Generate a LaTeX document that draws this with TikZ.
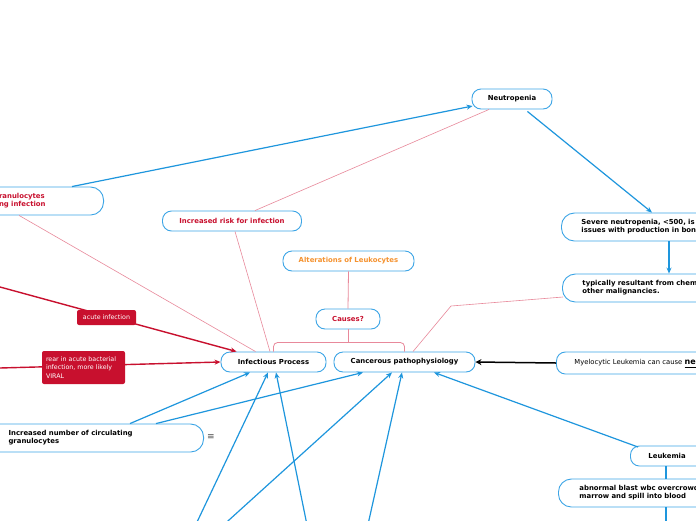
\documentclass[tikz,border=0pt]{standalone}
\usepackage{fontspec}
\setmainfont{DejaVu Sans}
\usetikzlibrary{arrows.meta,calc}
\definecolor{nblue}{HTML}{3DA5E6}
\definecolor{cblue}{HTML}{1E96DD}
\definecolor{mred}{HTML}{C8102E}
\definecolor{mpink}{HTML}{E8899B}
\definecolor{morange}{HTML}{F5922F}
\tikzset{
  topic/.style={draw=nblue, line width=0.9pt, rounded corners=9pt, fill=white,
    minimum height=20pt, inner sep=0pt, font=\fontsize{6.9}{8}\selectfont\bfseries},
  twoline/.style={topic, minimum height=28pt, rounded corners=13pt, align=left},
  redtag/.style={fill=mred, text=white, rounded corners=2pt, inner sep=0pt,
    font=\fontsize{6.3}{8.5}\selectfont},
  blueline/.style={draw=cblue, line width=1.2pt},
  bluearrow/.style={blueline, -{Stealth[length=6pt,width=5pt]}},
  redarrow/.style={draw=mred, line width=1.4pt, -{Stealth[length=6pt,width=5pt]}},
  pinkline/.style={draw=mpink, line width=0.6pt},
}
\begin{document}
\begin{tikzpicture}[x=1pt,y=-1pt]
\fill[white] (0,0) rectangle (696,520);
\useasboundingbox (0,0) rectangle (696,520);

% topic nodes
\node[topic, minimum width=80pt] (neut) at (512,99) {Neutropenia};
\node[topic, minimum width=139pt, text=mred] (risk) at (232,221) {Increased risk for infection};
\node[topic, minimum width=131pt, text=morange] (alter) at (348.5,261) {Alterations of Leukocytes};
\node[topic, minimum width=64pt, text=mred] (causes) at (348,319) {Causes?};
\node[topic, minimum width=105pt] (inf) at (273.5,362) {Infectious Process};
\node[topic, minimum width=141pt] (canc) at (404.5,362) {Cancerous pathophysiology};
\node[topic, anchor=west, minimum height=22pt, inner xsep=18pt, text width=200pt, align=left,
  font=\fontsize{6.8}{8}\selectfont] (myelo) at (556,363)
  {Myelocytic Leukemia can cause {\fontsize{8}{8}\selectfont\bfseries\underline{neutropenia}}};
\node[twoline, anchor=west, inner xsep=20pt, text width=160pt] (severe) at (561,227)
  {Severe neutropenia, <500, is\\issues with production in bone marrow};
\node[twoline, anchor=west, inner xsep=20pt, text width=160pt] (typ) at (562,288)
  {typically resultant from chemo or\\other malignancies.};
\node[topic, anchor=west, inner xsep=18pt, text width=60pt, align=left] (leuk) at (630,456) {Leukemia};
\node[twoline, anchor=west, inner xsep=21pt, text width=160pt] (abn) at (558,493)
  {abnormal blast wbc overcrowd the\\marrow and spill into blood};
\node[twoline, anchor=east, inner xsep=29pt, text width=166pt] (circ) at (204,438)
  {Increased number of circulating\\granulocytes};
\node[twoline, anchor=east, inner xsep=22.5pt, text width=82pt, text=mred] (lgran) at (104,201)
  {ranulocytes\\ng infection};
\node[text=black!70, font=\fontsize{9}{9}\selectfont, inner sep=0pt] (menu) at (211,437) {≡};

% free ends
\coordinate (r1) at (-4,285.9);
\coordinate (r2) at (-4,368.1);
\coordinate (b1) at (196.1,524);
\coordinate (b2) at (224.6,524);
\coordinate (b3) at (306.8,524);
\coordinate (b4) at (368.1,524);
\coordinate (ab0) at (666,524);
\coordinate (kink) at (451,306);

% pink relations
\draw[pinkline] ($(neut.south)+(-23,0)$) -- ($(risk.north)+(23,0)$);
\draw[pinkline] ($(lgran.south west)+(43,0)$) -- ($(inf.north west)+(35,0)$);
\draw[pinkline] ($(risk.south)+(3,0)$) -- ($(inf.north)+(-3.5,0)$);
\draw[pinkline] ($(typ.west)+(1,9)$) -- (kink) -- ($(canc.north)+(8.5,0)$);
\draw[pinkline, line width=0.8pt] (alter.south) -- (causes.north);
\draw[pinkline, line width=0.8pt] (causes.south) -- ++(0,14);
\draw[pinkline, line width=0.8pt, rounded corners=4pt] (inf.north) -- ++(0,-9) -| (canc.north);

% blue arrows
\draw[bluearrow] ($(lgran.north east)+(-32,0)$) -- ($(neut.west)+(1,7)$);
\draw[bluearrow] ($(neut.south east)+(-25,2)$) -- ($(severe.north west)+(91,0)$);
\draw[bluearrow] ($(severe.south west)+(108,0)$) -- ($(typ.north west)+(107,0)$);
\draw[bluearrow] ($(leuk.west)+(8,-9)$) -- ($(canc.south)+(29.5,0)$);
\draw[bluearrow] ($(circ.north east)+(-74,0)$) -- ($(inf.south)+(-23.5,0)$);
\draw[bluearrow] ($(circ.north east)+(-48,0)$) -- ($(canc.south)+(-41.5,0)$);
\draw[bluearrow] (b1) -- ($(inf.south)+(-5.5,0)$);
\draw[bluearrow] (b2) -- ($(canc.south)+(-12.5,0)$);
\draw[bluearrow] (b3) -- ($(inf.south)+(2.5,0)$);
\draw[bluearrow] (b4) -- ($(canc.south)+(-2.5,0)$);
\draw[blueline] ($(leuk.south west)+(36,0)$) -- ($(abn.north west)+(108,0)$);
\draw[blueline] ($(abn.south west)+(108,0)$) -- (ab0);

% black arrow
\draw[black, line width=1.5pt, -{Stealth[length=6pt,width=6pt]}] (myelo.west) -- (canc.east);

% red arrows with tags
\draw[redarrow] (r1) -- ($(inf.north west)+(16,0)$);
\draw[redarrow] (r2) -- (inf.west);
\node[redtag, minimum width=59pt, minimum height=15pt] (acute) at (106.5,317.5) {acute infection};
\node[redtag, align=left, text width=75pt, inner xsep=4pt, minimum height=33pt] (rear) at (83.5,367.5)
  {rear in acute bacterial\\infection, more likely\\VIRAL};
\end{tikzpicture}
\end{document}
